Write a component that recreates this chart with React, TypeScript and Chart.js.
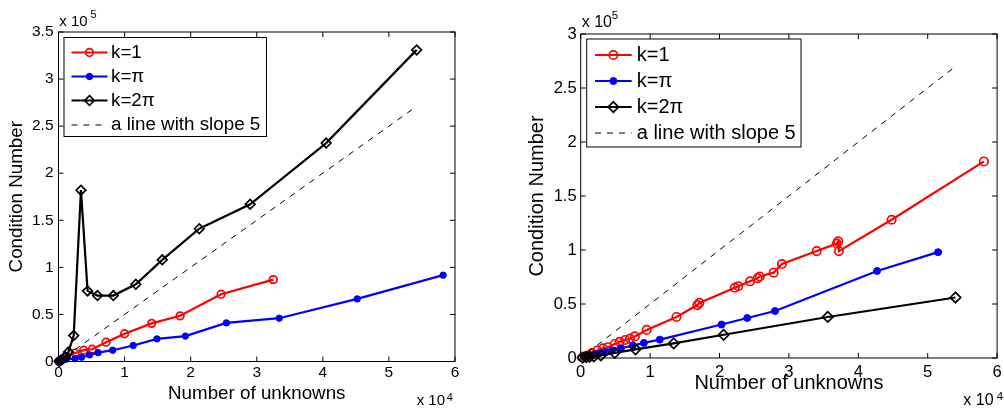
import React, { useEffect, useRef } from 'react';
import { Chart, registerables } from 'chart.js';

Chart.register(...registerables);

const FONT = '"Liberation Sans", Arial, Helvetica, sans-serif';

// ---------- Data (left panel) ----------
const L_K1_X = [50, 150, 300, 600, 1200, 2500, 3800, 5100, 7200, 10000, 14100, 18400, 24600, 32500];
const L_K1_Y = [100, 400, 1000, 2500, 5000, 9000, 12000, 13000, 20500, 29500, 40500, 48500, 71500, 87000];
const L_KPI_X = [50, 150, 300, 600, 1200, 2500, 3500, 4700, 6000, 8200, 11300, 14900, 19200, 25400, 33400, 45200, 58200];
const L_KPI_Y = [100, 300, 700, 1500, 2500, 3000, 4500, 7000, 9400, 12000, 17000, 24000, 27000, 41000, 46000, 66500, 91700];
const L_K2PI_X = [100, 300, 600, 1000, 1500, 2300, 3400, 4400, 5900, 8300, 11700, 15700, 21300, 29000, 40500, 54200];
const L_K2PI_Y = [300, 1000, 2500, 5000, 10000, 27500, 182000, 75000, 70000, 70000, 82000, 108000, 141000, 167000, 232000, 331000];

// ---------- Data (right panel) ----------
const R_K1_X = [200, 850, 1600, 2400, 3200, 3900, 4900, 5600, 6400, 7100, 7800, 9500, 13800, 16800, 17100, 22200, 22700, 24400, 25500, 25800, 27800, 29000, 34000, 36900, 37100, 37200, 44800, 58100];
const R_K1_Y = [500, 2000, 4500, 7000, 9000, 10000, 13000, 15000, 16700, 18000, 20000, 26000, 38000, 49000, 51000, 65000, 66500, 71000, 74000, 75500, 79000, 87000, 99000, 106000, 108000, 99000, 128000, 182000];
const R_KPI_X = [500, 1500, 2500, 3500, 4500, 5800, 7500, 9100, 11400, 20300, 24000, 28000, 42700, 51500];
const R_KPI_Y = [1000, 2500, 4000, 5500, 7000, 9000, 11500, 14000, 17000, 31000, 37000, 43500, 80600, 98000];
const R_K2PI_X = [300, 800, 1300, 1900, 2900, 4900, 7900, 13400, 20600, 35600, 54000];
const R_K2PI_Y = [300, 800, 1200, 1500, 2400, 4800, 8000, 13500, 21500, 38000, 56000];

// Reference line with slope 5 (same in both panels)
const SLOPE_X = [1000, 54000];
const SLOPE_Y = [5000, 270000];

const LEGEND_LABELS = ['k=1', 'k=\u03C0', 'k=2\u03C0', 'a line with slope 5'];
const X_TITLE = 'Number of unknowns';
const Y_TITLE = 'Condition Number';
const X_MAX = 60000;
const X_STEP = 10000;
const Y_STEP = 50000;
const L_Y_MAX = 350000;
const R_Y_MAX = 300000;

type Panel = {
  canvasLeft: number;
  canvasWidth: number;
  padLeft: number;
  yWidth: number;
  padRight: number;
  padTop: number;
  xHeight: number;
  yMax: number;
  tickFont: number;
  labelFont: number;
  yTickPad: number;
  xTickPad: number;
  yTitlePad: number;
  xTitlePad: number;
  series: { x: number[]; y: number[] }[];
  marker: { r1: number; rpi: number; r2pi: number };
  legend: { x0: number; y0: number; x1: number; y1: number; rows: number[]; lx0: number; lx1: number; tx: number };
  expY: { x: number; base: number; sx: number; sbase: number; size: number; ssize: number };
  expX: { x: number; base: number; sx: number; sbase: number; size: number; ssize: number };
};

const H = 410;

const PANELS: Panel[] = [
  {
    canvasLeft: 0,
    canvasWidth: 500,
    padLeft: 0,
    yWidth: 58.5,
    padRight: 45,
    padTop: 32,
    xHeight: H - 361.5,
    yMax: L_Y_MAX,
    tickFont: 15.5,
    labelFont: 18.8,
    yTickPad: 5,
    xTickPad: 2,
    yTitlePad: 5.7,
    xTitlePad: 5.3,
    series: [
      { x: L_K1_X, y: L_K1_Y },
      { x: L_KPI_X, y: L_KPI_Y },
      { x: L_K2PI_X, y: L_K2PI_Y },
      { x: SLOPE_X, y: SLOPE_Y },
    ],
    marker: { r1: 3.8, rpi: 3.2, r2pi: 4.8 },
    legend: { x0: 64, y0: 37.5, x1: 266.5, y1: 136.5, rows: [52.5, 76.5, 100.5, 125], lx0: 71.5, lx1: 107.5, tx: 111 },
    expY: { x: 59.3, base: 26, sx: 90.5, sbase: 18, size: 15, ssize: 11 },
    expX: { x: 416.7, base: 405, sx: 446.7, sbase: 400.5, size: 15, ssize: 11 },
  },
  {
    canvasLeft: 500,
    canvasWidth: 504,
    padLeft: 20,
    yWidth: 60.7,
    padRight: 1.3,
    padTop: 34,
    xHeight: H - 358,
    yMax: R_Y_MAX,
    tickFont: 16.6,
    labelFont: 20,
    yTickPad: 4,
    xTickPad: 4.6,
    yTitlePad: 5,
    xTitlePad: 15,
    series: [
      { x: R_K1_X, y: R_K1_Y },
      { x: R_KPI_X, y: R_KPI_Y },
      { x: R_K2PI_X, y: R_K2PI_Y },
      { x: SLOPE_X, y: SLOPE_Y },
    ],
    marker: { r1: 4.2, rpi: 3.5, r2pi: 5.2 },
    legend: { x0: 86.7, y0: 39, x1: 301, y1: 147, rows: [55, 81, 107, 133], lx0: 95, lx1: 131.7, tx: 136.7 },
    expY: { x: 81.7, base: 26.7, sx: 111.7, sbase: 18.5, size: 16, ssize: 11.5 },
    expX: { x: 463.3, base: 405, sx: 496.7, sbase: 399.5, size: 16, ssize: 11.5 },
  },
];

function drawMarker(ctx: CanvasRenderingContext2D, style: string, x: number, y: number, r: number, fill: string, stroke: string, bw: number) {
  ctx.save();
  ctx.beginPath();
  if (style === 'rectRot') {
    ctx.moveTo(x, y - r);
    ctx.lineTo(x + r, y);
    ctx.lineTo(x, y + r);
    ctx.lineTo(x - r, y);
    ctx.closePath();
  } else {
    ctx.arc(x, y, r, 0, Math.PI * 2);
  }
  ctx.setLineDash([]);
  if (fill && fill !== 'rgba(0,0,0,0)') {
    ctx.fillStyle = fill;
    ctx.fill();
  }
  ctx.lineWidth = bw;
  ctx.strokeStyle = stroke;
  ctx.stroke();
  ctx.restore();
}

function makeChart(canvas: HTMLCanvasElement, p: Panel) {
  const colors = ['#ff0000', '#0000ff', '#000000', '#000000'];
  const datasets: any[] = p.series.map((s, i) => {
    const data = s.x.map((x, j) => ({ x, y: s.y[j] }));
    const base: any = {
      label: LEGEND_LABELS[i],
      data,
      showLine: true,
      borderColor: colors[i],
      borderWidth: 2.2,
      clip: false,
      order: 4 - i,
      pointBorderColor: colors[i],
      pointHoverRadius: 0,
    };
    if (i === 0) {
      Object.assign(base, { pointStyle: 'circle', pointRadius: p.marker.r1, pointBorderWidth: 1.7, pointBackgroundColor: 'rgba(0,0,0,0)' });
    } else if (i === 1) {
      Object.assign(base, { pointStyle: 'circle', pointRadius: p.marker.rpi, pointBorderWidth: 1, pointBackgroundColor: colors[i] });
    } else if (i === 2) {
      Object.assign(base, { pointStyle: 'rectRot', pointRadius: p.marker.r2pi, pointBorderWidth: 1.7, pointBackgroundColor: 'rgba(0,0,0,0)' });
    } else {
      Object.assign(base, { borderWidth: 1, borderDash: [6, 6], pointRadius: 0 });
    }
    return base;
  });

  const framePlugin = {
    id: 'frame' + p.canvasLeft,
    afterDatasetsDraw(chart: any) {
      const ctx: CanvasRenderingContext2D = chart.ctx;
      const { left, right, top, bottom } = chart.chartArea;
      ctx.save();
      ctx.strokeStyle = '#000';
      ctx.lineWidth = 1;
      ctx.setLineDash([]);
      ctx.strokeRect(left, top, right - left, bottom - top);
      const tl = 5;
      ctx.beginPath();
      chart.scales.x.ticks.forEach((t: any) => {
        const px = chart.scales.x.getPixelForValue(t.value);
        ctx.moveTo(px, bottom);
        ctx.lineTo(px, bottom - tl);
        ctx.moveTo(px, top);
        ctx.lineTo(px, top + tl);
      });
      chart.scales.y.ticks.forEach((t: any) => {
        const py = chart.scales.y.getPixelForValue(t.value);
        ctx.moveTo(left, py);
        ctx.lineTo(left + tl, py);
        ctx.moveTo(right, py);
        ctx.lineTo(right - tl, py);
      });
      ctx.stroke();
      ctx.restore();
    },
    afterDraw(chart: any) {
      const ctx: CanvasRenderingContext2D = chart.ctx;
      ctx.save();
      // exponent labels
      ctx.fillStyle = '#000';
      ctx.textBaseline = 'alphabetic';
      ctx.textAlign = 'left';
      const ex = [
        { e: p.expY, s: '5' },
        { e: p.expX, s: '4' },
      ];
      ex.forEach(({ e, s }) => {
        ctx.font = `${e.size}px ${FONT}`;
        ctx.fillText('x 10', e.x, e.base);
        ctx.font = `${e.ssize}px ${FONT}`;
        ctx.fillText(s, e.sx, e.sbase);
      });
      // legend
      const L = p.legend;
      ctx.fillStyle = '#fff';
      ctx.fillRect(L.x0, L.y0, L.x1 - L.x0, L.y1 - L.y0);
      ctx.strokeStyle = '#000';
      ctx.lineWidth = 1;
      ctx.strokeRect(L.x0, L.y0, L.x1 - L.x0, L.y1 - L.y0);
      chart.data.datasets.forEach((ds: any, i: number) => {
        const y = L.rows[i];
        ctx.save();
        ctx.strokeStyle = ds.borderColor;
        ctx.lineWidth = ds.borderWidth;
        ctx.setLineDash(ds.borderDash || []);
        ctx.beginPath();
        ctx.moveTo(L.lx0, y);
        ctx.lineTo(L.lx1, y);
        ctx.stroke();
        ctx.restore();
        if (ds.pointRadius > 0) {
          drawMarker(ctx, ds.pointStyle, (L.lx0 + L.lx1) / 2, y, ds.pointRadius, ds.pointBackgroundColor, ds.pointBorderColor, ds.pointBorderWidth);
        }
        ctx.fillStyle = '#000';
        ctx.font = `${p.labelFont}px ${FONT}`;
        ctx.textBaseline = 'middle';
        ctx.textAlign = 'left';
        ctx.fillText(ds.label, L.tx, y);
      });
      ctx.restore();
    },
  };

  const fmtY = (v: number) => String(Number((v / 100000).toFixed(1)));
  const fmtX = (v: number) => String(Number((v / 10000).toFixed(1)));

  return new Chart(canvas, {
    type: 'scatter',
    data: { datasets },
    options: {
      responsive: false,
      animation: false,
      events: [],
      layout: { padding: { left: p.padLeft, right: p.padRight, top: p.padTop, bottom: 0 } },
      plugins: { legend: { display: false }, tooltip: { enabled: false } },
      scales: {
        x: {
          type: 'linear',
          min: 0,
          max: X_MAX,
          ticks: {
            stepSize: X_STEP,
            callback: (v: any) => fmtX(Number(v)),
            color: '#000',
            font: { family: FONT, size: p.tickFont },
            padding: p.xTickPad,
            maxRotation: 0,
            autoSkip: false,
          },
          grid: { display: false, drawTicks: false },
          border: { display: false },
          title: {
            display: true,
            text: X_TITLE,
            color: '#000',
            font: { family: FONT, size: p.labelFont },
            padding: { top: 0, bottom: p.xTitlePad },
          },
          afterFit: (s: any) => {
            s.height = p.xHeight;
            s.paddingLeft = 0;
            s.paddingRight = 0;
          },
        },
        y: {
          type: 'linear',
          min: 0,
          max: p.yMax,
          ticks: {
            stepSize: Y_STEP,
            callback: (v: any) => fmtY(Number(v)),
            color: '#000',
            font: { family: FONT, size: p.tickFont },
            padding: p.yTickPad,
            autoSkip: false,
          },
          grid: { display: false, drawTicks: false },
          border: { display: false },
          title: {
            display: true,
            text: Y_TITLE,
            color: '#000',
            font: { family: FONT, size: p.labelFont },
            padding: { top: p.yTitlePad, bottom: 0 },
          },
          afterFit: (s: any) => {
            s.width = p.yWidth;
            s.paddingTop = 0;
            s.paddingBottom = 0;
          },
        },
      },
    } as any,
    plugins: [framePlugin],
  });
}

function PanelChart({ p }: { p: Panel }) {
  const ref = useRef<HTMLCanvasElement | null>(null);
  useEffect(() => {
    if (!ref.current) return;
    const chart = makeChart(ref.current, p);
    return () => chart.destroy();
  }, [p]);
  return (
    <canvas
      ref={ref}
      width={p.canvasWidth}
      height={H}
      style={{ position: 'absolute', left: p.canvasLeft, top: 0, width: p.canvasWidth, height: H, display: 'block' }}
    />
  );
}

export default function App() {
  return (
    <div style={{ position: 'fixed', left: 0, top: 0, width: 1004, height: H, background: '#fff', overflow: 'hidden' }}>
      {PANELS.map((p, i) => (
        <PanelChart key={i} p={p} />
      ))}
    </div>
  );
}
